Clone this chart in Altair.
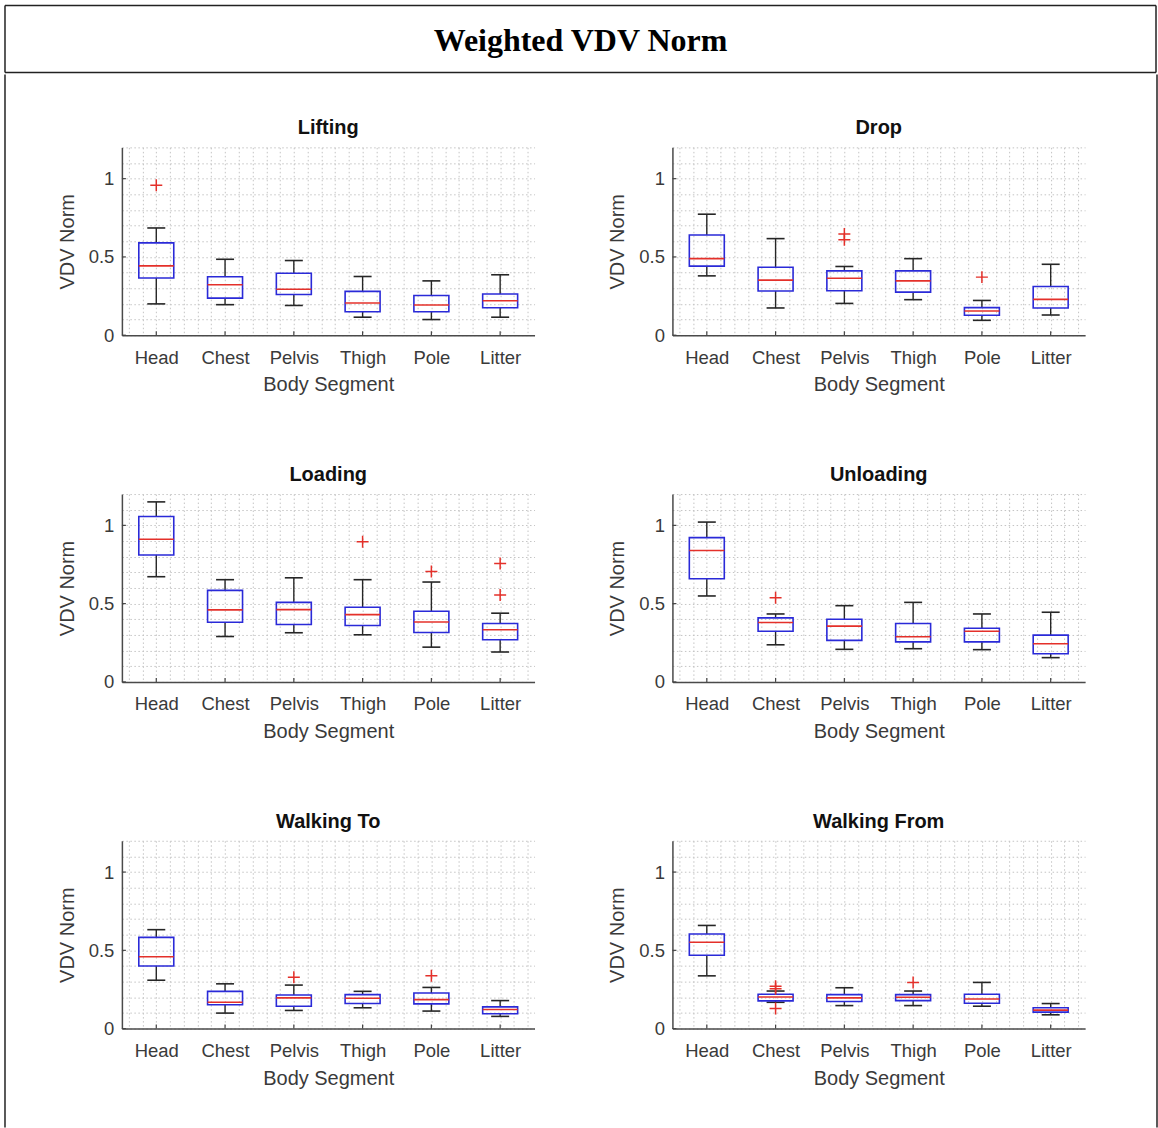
import altair as alt
import pandas as pd

# ---- data -------------------------------------------------------------
CATEGORIES = ["Head", "Chest", "Pelvis", "Thigh", "Pole", "Litter"]
Y_TICK_VALUES = [0, 0.5, 1]
Y_TICK_LABELS = ["0", "0.5", "1"]

# box-plot summaries per activity: lower whisker, Q1, median, Q3, upper whisker
LIFTING = dict(
    lo=[0.200, 0.195, 0.190, 0.115, 0.100, 0.115],
    q1=[0.365, 0.237, 0.260, 0.150, 0.150, 0.175],
    med=[0.443, 0.322, 0.294, 0.206, 0.193, 0.220],
    q3=[0.590, 0.373, 0.396, 0.280, 0.254, 0.263],
    hi=[0.685, 0.485, 0.477, 0.375, 0.347, 0.386],
)
LIFTING_OUT = [("Head", 0.958)]

DROP = dict(
    lo=[0.379, 0.174, 0.203, 0.227, 0.095, 0.129],
    q1=[0.441, 0.282, 0.284, 0.275, 0.127, 0.174],
    med=[0.489, 0.352, 0.364, 0.347, 0.155, 0.229],
    q3=[0.640, 0.434, 0.411, 0.411, 0.176, 0.311],
    hi=[0.773, 0.617, 0.439, 0.489, 0.222, 0.453],
)
DROP_OUT = [("Pelvis", 0.646), ("Pelvis", 0.610), ("Pole", 0.371)]

LOADING = dict(
    lo=[0.672, 0.290, 0.314, 0.301, 0.222, 0.191],
    q1=[0.811, 0.381, 0.367, 0.360, 0.316, 0.269],
    med=[0.911, 0.460, 0.462, 0.430, 0.383, 0.333],
    q3=[1.057, 0.585, 0.508, 0.477, 0.451, 0.373],
    hi=[1.150, 0.653, 0.665, 0.653, 0.638, 0.439],
)
LOADING_OUT = [("Thigh", 0.896), ("Pole", 0.706), ("Litter", 0.756), ("Litter", 0.555)]

UNLOADING = dict(
    lo=[0.549, 0.237, 0.208, 0.212, 0.206, 0.155],
    q1=[0.659, 0.324, 0.265, 0.256, 0.256, 0.180],
    med=[0.839, 0.379, 0.356, 0.288, 0.324, 0.244],
    q3=[0.922, 0.409, 0.400, 0.373, 0.343, 0.299],
    hi=[1.021, 0.434, 0.487, 0.508, 0.434, 0.445],
)
UNLOADING_OUT = [("Chest", 0.538)]

WALKING_TO = dict(
    lo=[0.309, 0.099, 0.116, 0.133, 0.112, 0.078],
    q1=[0.400, 0.152, 0.143, 0.160, 0.158, 0.095],
    med=[0.459, 0.168, 0.196, 0.194, 0.185, 0.122],
    q3=[0.583, 0.238, 0.215, 0.217, 0.227, 0.139],
    hi=[0.632, 0.286, 0.278, 0.238, 0.263, 0.179],
)
WALKING_TO_OUT = [("Pelvis", 0.328), ("Pole", 0.337)]

WALKING_FROM = dict(
    lo=[0.337, 0.168, 0.147, 0.147, 0.143, 0.088],
    q1=[0.469, 0.177, 0.173, 0.179, 0.162, 0.105],
    med=[0.552, 0.202, 0.196, 0.200, 0.189, 0.118],
    q3=[0.604, 0.219, 0.217, 0.217, 0.219, 0.133],
    hi=[0.659, 0.240, 0.261, 0.240, 0.295, 0.160],
)
WALKING_FROM_OUT = [("Chest", 0.270), ("Chest", 0.255), ("Chest", 0.128), ("Thigh", 0.295)]

PANELS = [
    ("Lifting", LIFTING, LIFTING_OUT),
    ("Drop", DROP, DROP_OUT),
    ("Loading", LOADING, LOADING_OUT),
    ("Unloading", UNLOADING, UNLOADING_OUT),
    ("Walking To", WALKING_TO, WALKING_TO_OUT),
    ("Walking From", WALKING_FROM, WALKING_FROM_OUT),
]

# ---- styling ----------------------------------------------------------
FONT = "Liberation Sans"
W, H = 413, 188
BOX_HALF = 17.5
CAP_HALF = 9
BLUE = "#2a2ad8"
RED = "#e4302a"
DARK = "#262626"
PLUS = "M-1,0L1,0M0,-1L0,1"

x_grid_values = [round(0.6 + 0.2 * i, 1) for i in range(30)]
y_grid_values = [round(0.1 * i, 1) for i in range(13)]

names_js = "[" + ",".join(f"'{c}'" for c in CATEGORIES) + "]"
x_label_expr = f"datum.value % 1 === 0 ? {names_js}[datum.value - 1] : ''"
y_label_expr = "".join(
    f"abs(datum.value - {v}) < 1e-9 ? '{t}' : " for v, t in zip(Y_TICK_VALUES, Y_TICK_LABELS)
) + "''"

x_scale = alt.Scale(domain=[0.5, 6.5], nice=False, zero=False)
y_scale = alt.Scale(domain=[0, 1.2], nice=False)

x_axis = alt.Axis(
    values=x_grid_values, labelExpr=x_label_expr, labelPadding=13,
    titlePadding=8, labelOverlap=False, labelFlush=False,
)
y_axis = alt.Axis(
    values=y_grid_values, labelExpr=y_label_expr, labelPadding=8,
    titlePadding=11, labelOverlap=False, labelFlush=False,
)


def xenc():
    return alt.X("idx:Q", scale=x_scale, axis=x_axis, title="Body Segment")


def yenc(field):
    return alt.Y(f"{field}:Q", scale=y_scale, axis=y_axis, title="VDV Norm")


def panel(title, stats, outliers):
    df = pd.DataFrame({"idx": list(range(1, len(CATEGORIES) + 1)), **stats})
    out_df = pd.DataFrame(
        {"idx": [CATEGORIES.index(c) + 1 for c, _ in outliers], "v": [v for _, v in outliers]}
    )
    tick_df = pd.DataFrame({"v": Y_TICK_VALUES})
    base = alt.Chart(df)

    whisk_hi = base.mark_rule(color=DARK, strokeWidth=1.4).encode(
        x=xenc(), y=yenc("q3"), y2="hi:Q")
    whisk_lo = base.mark_rule(color=DARK, strokeWidth=1.4).encode(
        x=xenc(), y=yenc("lo"), y2="q1:Q")
    cap_hi = base.mark_rule(color=DARK, strokeWidth=1.6, xOffset=-CAP_HALF, x2Offset=CAP_HALF).encode(
        x=xenc(), x2="idx:Q", y=yenc("hi"))
    cap_lo = base.mark_rule(color=DARK, strokeWidth=1.6, xOffset=-CAP_HALF, x2Offset=CAP_HALF).encode(
        x=xenc(), x2="idx:Q", y=yenc("lo"))
    box = base.mark_rect(fillOpacity=0, stroke=BLUE, strokeWidth=1.6,
                         xOffset=-BOX_HALF, x2Offset=BOX_HALF).encode(
        x=xenc(), x2="idx:Q", y=yenc("q1"), y2="q3:Q")
    median = base.mark_rule(color=RED, strokeWidth=1.6, xOffset=-BOX_HALF, x2Offset=BOX_HALF).encode(
        x=xenc(), x2="idx:Q", y=yenc("med"))
    out = alt.Chart(out_df).mark_point(
        shape=PLUS, color=RED, filled=False, size=144, strokeWidth=1.5, opacity=1).encode(
        x=xenc(), y=yenc("v"))
    xticks = base.mark_rule(color="#444", strokeWidth=1.2).encode(
        x=xenc(), y=alt.value(H), y2=alt.value(H - 4))
    yticks = alt.Chart(tick_df).mark_rule(color="#444", strokeWidth=1.2).encode(
        y=yenc("v"), x=alt.value(0), x2=alt.value(4))

    return alt.layer(
        whisk_hi, whisk_lo, cap_hi, cap_lo, box, median, out, xticks, yticks
    ).properties(
        width=W, height=H,
        title=alt.TitleParams(title, font=FONT, fontSize=20, fontWeight="bold",
                              color="#111111", offset=0),
    )


charts = [panel(*p) for p in PANELS]
rows = [alt.hconcat(charts[i], charts[i + 1], spacing=73) for i in range(0, 6, 2)]
grid = alt.vconcat(*rows, spacing=70)

one = pd.DataFrame({"a": [0]})
line = dict(color="#222222", strokeWidth=1.5)


def blank(width, height):
    # invisible filler used to push the panel grid into place
    return alt.Chart(one).mark_rule(opacity=0, strokeWidth=0).encode(
        x=alt.value(0), x2=alt.value(1), y=alt.value(0)).properties(width=width, height=height)


def vline(width, height, at):
    return alt.Chart(one).mark_rule(**line).encode(
        x=alt.value(at), y=alt.value(0), y2=alt.value(height)).properties(width=width, height=height)


# heading cell of the frame with the figure title
FW = 1152
HEAD_H = 67
head_base = alt.Chart(one)
head = alt.layer(
    head_base.mark_rule(**line).encode(x=alt.value(0), y=alt.value(0), y2=alt.value(HEAD_H)),
    head_base.mark_rule(**line).encode(x=alt.value(FW), y=alt.value(0), y2=alt.value(HEAD_H)),
    head_base.mark_rule(**line).encode(x=alt.value(0), x2=alt.value(FW), y=alt.value(0)),
    head_base.mark_rule(**line).encode(x=alt.value(0), x2=alt.value(FW), y=alt.value(HEAD_H)),
    head_base.mark_text(font="Liberation Serif", fontSize=32, fontWeight="bold",
                        color="black", align="center", baseline="middle").encode(
        x=alt.value(FW / 2), y=alt.value(36), text=alt.value("Weighted VDV Norm")),
).properties(width=FW, height=HEAD_H)

# open lower cell: two side borders around the panel grid
BODY_H = 1054
GAP = 10
LEFT_W = 42
RIGHT_W = 62
content = alt.vconcat(blank(10, 43.5), grid, spacing=0)
body = alt.hconcat(vline(LEFT_W, BODY_H, 0), content, vline(RIGHT_W, BODY_H, RIGHT_W), spacing=GAP)

chart = alt.vconcat(head, body, spacing=0).properties(
    padding={"left": 4, "top": 4, "right": 0, "bottom": 0},
    background="white",
).configure_view(stroke=None).configure_axis(
    domainColor="#4a4a4a", domainWidth=1.5,
    grid=True, gridColor="#c4c4c4", gridDash=[1.5, 2.5], gridWidth=1,
    ticks=False, tickSize=0,
    labelFont=FONT, labelFontSize=18.5, labelColor="#3a3a3a",
    titleFont=FONT, titleFontSize=20, titleColor="#3a3a3a", titleFontWeight="normal",
)

chart.save("out.html", embed_options={"renderer": "svg", "actions": False})
